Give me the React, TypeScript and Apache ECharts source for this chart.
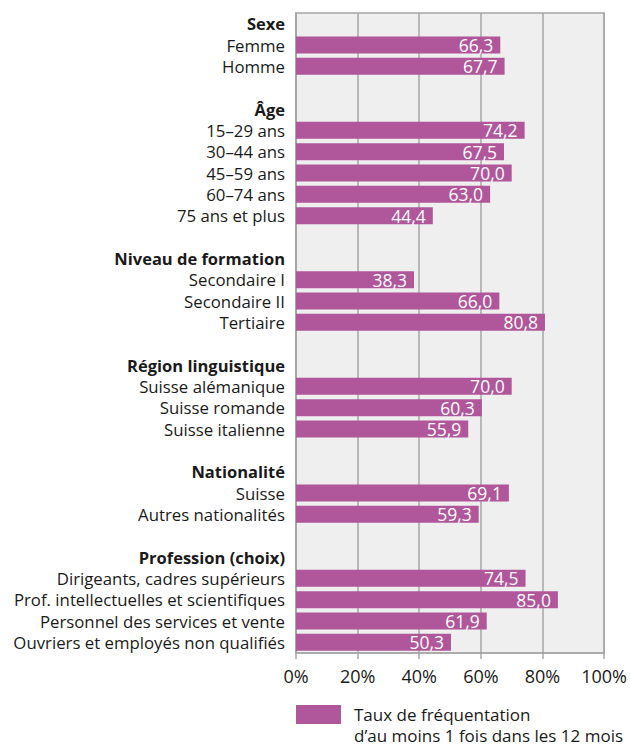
import React, { useEffect, useRef } from "react";
import * as echarts from "echarts";

const groupHeaders = [
  "Sexe",
  "Âge",
  "Niveau de formation",
  "Région linguistique",
  "Nationalité",
  "Profession (choix)",
];

const groupItems = [
  ["Femme", "Homme"],
  ["15–29 ans", "30–44 ans", "45–59 ans", "60–74 ans", "75 ans et plus"],
  ["Secondaire I", "Secondaire II", "Tertiaire"],
  ["Suisse alémanique", "Suisse romande", "Suisse italienne"],
  ["Suisse", "Autres nationalités"],
  [
    "Dirigeants, cadres supérieurs",
    "Prof. intellectuelles et scientifiques",
    "Personnel des services et vente",
    "Ouvriers et employés non qualifiés",
  ],
];

const groupValues = [
  [66.3, 67.7],
  [74.2, 67.5, 70.0, 63.0, 44.4],
  [38.3, 66.0, 80.8],
  [70.0, 60.3, 55.9],
  [69.1, 59.3],
  [74.5, 85.0, 61.9, 50.3],
];

const xTicks = [0, 20, 40, 60, 80, 100];
const seriesName = "Taux de fréquentation d’au moins 1 fois dans les 12 mois";
const legendLines = ["Taux de fréquentation", "d’au moins 1 fois dans les 12 mois"];

const FONT = "'Open Sans', 'Noto Sans', sans-serif";

export default function App() {
  const ref = useRef<HTMLDivElement>(null);

  useEffect(() => {
    if (!ref.current) return;
    const chart = echarts.init(ref.current, undefined, { renderer: "svg" });

    const categories: string[] = [];
    const kinds: string[] = [];
    const values: (number | string)[] = [];
    groupHeaders.forEach((h, gi) => {
      if (gi > 0) {
        categories.push("__blank" + gi);
        kinds.push("blank");
        values.push("-");
      }
      categories.push(h);
      kinds.push("header");
      values.push("-");
      groupItems[gi].forEach((it, ii) => {
        categories.push(it + "__" + gi);
        kinds.push("item");
        values.push(groupValues[gi][ii]);
      });
    });

    chart.setOption({
      animation: false,
      textStyle: { fontFamily: FONT },
      grid: {
        left: 296,
        right: 24,
        top: 13,
        bottom: 93,
        show: true,
        backgroundColor: "#efefef",
        borderColor: "#a6a6a6",
        borderWidth: 1.5,
      },
      xAxis: {
        type: "value",
        min: xTicks[0],
        max: xTicks[xTicks.length - 1],
        interval: 20,
        axisLine: { show: true, lineStyle: { color: "#a6a6a6", width: 1.5 } },
        axisTick: { show: true, length: 6, lineStyle: { color: "#a6a6a6", width: 1.5 } },
        splitLine: { show: true, lineStyle: { color: "#a6a6a6", width: 1.5 } },
        axisLabel: {
          formatter: "{value}%",
          color: "#1a1a1a",
          fontSize: 18,
          fontFamily: FONT,
          margin: 14,
        },
      },
      yAxis: {
        type: "category",
        inverse: true,
        data: categories,
        axisLine: { show: true, lineStyle: { color: "#a6a6a6", width: 1.5 } },
        axisTick: { show: false },
        splitLine: { show: false },
        axisLabel: {
          interval: 0,
          margin: 11,
          color: "#1a1a1a",
          fontSize: 16.8,
          fontFamily: FONT,
          formatter: (v: string, idx: number) => {
            const k = kinds[idx];
            if (k === "blank") return "";
            if (k === "header") return "{b|" + v + "}";
            return v.replace(/__\d+$/, "");
          },
          rich: {
            b: { fontWeight: "bold", fontSize: 16.5, color: "#1a1a1a", fontFamily: FONT },
          },
        },
      },
      series: [
        {
          name: seriesName,
          type: "bar",
          data: values,
          barWidth: 17,
          itemStyle: { color: "#b0569a" },
          label: {
            show: true,
            position: "insideRight",
            distance: 7,
            color: "#ffffff",
            fontSize: 17.5,
            fontFamily: FONT,
            formatter: (p: any) => Number(p.value).toFixed(1).replace(".", ","),
          },
        },
      ],
      graphic: [
        {
          type: "rect",
          left: 296,
          top: 705,
          shape: { width: 45, height: 19 },
          style: { fill: "#b0569a" },
        },
        {
          type: "text",
          left: 354,
          top: 704,
          style: {
            text: legendLines.join("\n"),
            fill: "#1a1a1a",
            font: "17px " + FONT,
            lineHeight: 21,
          },
        },
      ],
    });

    return () => chart.dispose();
  }, []);

  return (
    <div
      ref={ref}
      style={{ position: "absolute", left: 0, top: 0, width: 630, height: 746 }}
    />
  );
}
